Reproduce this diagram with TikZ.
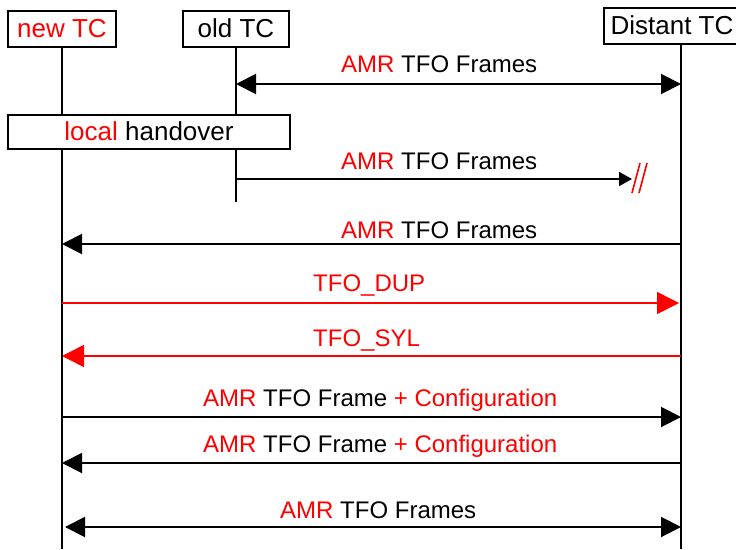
\documentclass[tikz,border=0pt]{standalone}
\usepackage{fontspec}
\setmainfont{Liberation Sans}
\usetikzlibrary{arrows.meta}
\definecolor{tred}{RGB}{255,0,0}
\begin{document}
\begin{tikzpicture}[x=1pt,y=-1pt,
  box/.style={draw, line width=2pt, fill=white, inner sep=0pt, text height=18pt, text depth=2pt, minimum height=36pt, font=\fontsize{26}{30}\selectfont},
  life/.style={line width=2pt},
  bhead/.style={Triangle[length=20pt,width=20pt]},
  msg/.style={line width=2pt, -{Triangle[length=20pt,width=20pt]}},
  dmsg/.style={line width=2pt, {Triangle[length=20pt,width=20pt]}-{Triangle[length=20pt,width=20pt]}},
  rmsg/.style={line width=1.6pt, tred, -{Triangle[length=22pt,width=22pt]}},
  lbl/.style={anchor=base west, inner sep=0pt, font=\fontsize{24}{28}\selectfont}]
\useasboundingbox (0,0) rectangle (736,549);
% boxes
\node[box, minimum width=108pt] (newtc) at (62,29) {\textcolor{tred}{new TC}};
\node[box, minimum width=106pt] (oldtc) at (236,29) {old TC};
\node[box, minimum width=136pt] (disttc) at (672,26) {Distant TC};
% lifeline ends
\coordinate (newend) at (62,549);
\coordinate (oldend) at (236,202);
\coordinate (distend) at (681,549);
\draw[life] (newtc.south) -- (newend);
\draw[life] (oldtc.south) -- (oldend);
\draw[life] (disttc.south -| distend) -- (distend);
% local handover
\node[box, minimum width=282pt, minimum height=34pt] (lho) at (149,132) {\textcolor{tred}{local} handover};
% message endpoints
\coordinate (o1) at (236,84);   \coordinate (d1) at (681,84);
\coordinate (o2) at (236,179);  \coordinate (cut) at (632,179);
\coordinate (d3) at (681,244);  \coordinate (n3) at (62,244);
\coordinate (n4) at (62,303);   \coordinate (d4) at (679,303);
\coordinate (d5) at (681,356);  \coordinate (n5) at (62,356);
\coordinate (n6) at (62,417);   \coordinate (d6) at (681,417);
\coordinate (d7) at (681,463);  \coordinate (n7) at (62,463);
\coordinate (n8) at (65,527);   \coordinate (d8) at (681,527);
% messages
\draw[dmsg] (o1) -- (d1);
\node[lbl] (l1) at (341,72) {\textcolor{tred}{AMR} TFO Frames};
\draw[line width=2pt, -{Triangle[length=13pt,width=14pt]}] (o2) -- (cut);
\node[lbl] (l2) at (341,169) {\textcolor{tred}{AMR} TFO Frames};
\coordinate (s1a) at (632,193); \coordinate (s1b) at (640,163);
\coordinate (s2a) at (639,193); \coordinate (s2b) at (647,163);
\draw[tred, line width=1.6pt] (s1a) -- (s1b) (s2a) -- (s2b);
\draw[msg] (d3) -- (n3);
\node[lbl] (l3) at (341,238) {\textcolor{tred}{AMR} TFO Frames};
\draw[rmsg] (n4) -- (d4);
\node[lbl, text=tred] (l4) at (313,291) {TFO\_DUP};
\draw[rmsg] (d5) -- (n5);
\node[lbl, text=tred] (l5) at (313,346) {TFO\_SYL};
\draw[msg] (n6) -- (d6);
\node[lbl] (l6) at (203,406) {\textcolor{tred}{AMR} TFO Frame \textcolor{tred}{+ Configuration}};
\draw[msg] (d7) -- (n7);
\node[lbl] (l7) at (203,452) {\textcolor{tred}{AMR} TFO Frame \textcolor{tred}{+ Configuration}};
\draw[dmsg] (n8) -- (d8);
\node[lbl] (l8) at (280,518) {\textcolor{tred}{AMR} TFO Frames};
\end{tikzpicture}
\end{document}
